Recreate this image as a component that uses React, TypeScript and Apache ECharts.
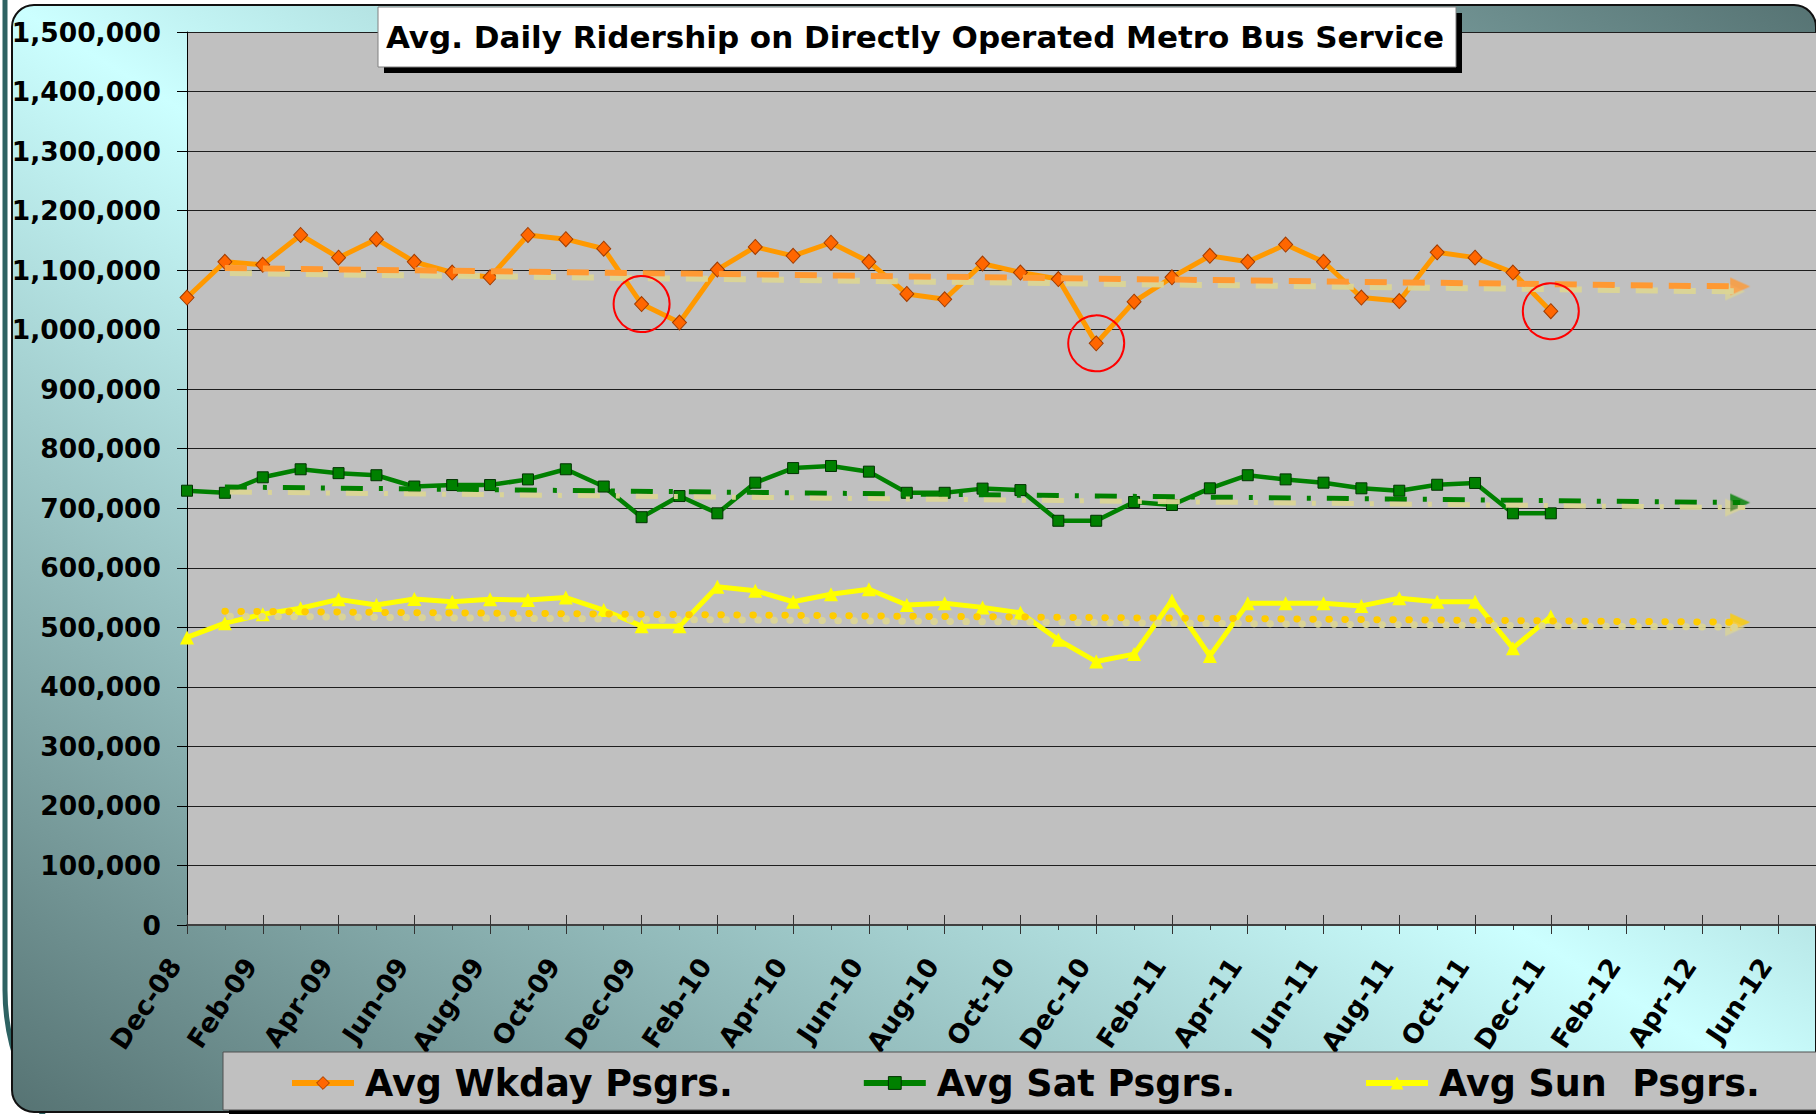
import React, { useEffect, useRef } from "react";
import * as echarts from "echarts";

const TITLE = "Avg. Daily Ridership on Directly Operated Metro Bus Service";

const categories = [
  "Dec-08",
  "Jan-09", "Feb-09", "Mar-09", "Apr-09", "May-09", "Jun-09", "Jul-09", "Aug-09", "Sep-09", "Oct-09", "Nov-09", "Dec-09",
  "Jan-10", "Feb-10", "Mar-10", "Apr-10", "May-10", "Jun-10", "Jul-10", "Aug-10", "Sep-10", "Oct-10", "Nov-10", "Dec-10",
  "Jan-11", "Feb-11", "Mar-11", "Apr-11", "May-11", "Jun-11", "Jul-11", "Aug-11", "Sep-11", "Oct-11", "Nov-11", "Dec-11",
  "Jan-12", "Feb-12", "Mar-12", "Apr-12", "May-12", "Jun-12", "Jul-12",
];

const seriesNames = ["Avg Wkday Psgrs.", "Avg Sat Psgrs.", "Avg Sun  Psgrs."];

const wkday = [
  1054000, 1114000, 1109000, 1159000, 1121000, 1152000, 1114000, 1096000, 1088000, 1159000, 1152000, 1136000, 1043000,
  1012000, 1101000, 1139000, 1124000, 1146000, 1114000, 1060000, 1051000, 1111000, 1096000, 1085000, 977000,
  1047000, 1088000, 1124000, 1114000, 1143000, 1114000, 1054000, 1048000, 1130000, 1121000, 1096000, 1031000,
];

const sat = [
  729500, 726000, 752000, 765500, 759000, 755500, 736500, 739000, 739000, 748500, 765500, 736500, 685000,
  720500, 691500, 743000, 767500, 771000, 761500, 726000, 726000, 733000, 730500, 679000, 679000,
  710500, 705500, 733500, 755500, 748500, 743000, 733500, 729500, 739500, 742500, 691500, 691500,
];

const sun = [
  483000, 507000, 522000, 532000, 547000, 537500, 547500, 543000, 547000, 546000, 550000, 529000, 502000,
  502000, 568000, 561500, 543000, 555500, 564000, 537500, 540500, 533500, 524500, 479000, 442500,
  455000, 545000, 452000, 540500, 540500, 540500, 536000, 549000, 543000, 543000, 465000, 518000,
];

// trend arrows: [categoryIndex, value] start and end
const wkdayTrend = [[1, 1103500], [41, 1072500]];
const satTrend = [[1, 735800], [41, 709500]];
const sunTrend = [[1, 527000], [41, 508500]];

// circled weekday points (category indices)
const circledIdx = [12, 24, 36];

const FONT = "DejaVu Sans";

export default function App() {
  const ref = useRef<HTMLDivElement>(null);

  useEffect(() => {
    document.body.style.margin = "0";
    const chart = echarts.init(ref.current!, undefined, { renderer: "svg" });

    const shadow = {
      shadowColor: "rgba(220,214,148,0.95)",
      shadowBlur: 0,
      shadowOffsetX: 5,
      shadowOffsetY: 5,
    };

    const trendLine = (pts: number[][], color: string, dash: number[], width: number, cap: string) => ({
      silent: true,
      symbol: ["none", "none"],
      label: { show: false },
      emphasis: { disabled: true },
      lineStyle: { color, type: dash, width, cap, ...shadow },
      data: [[{ coord: pts[0] }, { coord: pts[1] }]],
    });

    const arrowHead = (pts: number[][], color: string) => ({
      type: "scatter",
      silent: true,
      data: [pts[1]],
      symbol: "triangle",
      symbolRotate: -90,
      symbolSize: [18, 20],
      itemStyle: { color, ...shadow },
      z: 4,
    });

    const baseX = {
      type: "category",
      data: categories,
      boundaryGap: false,
      position: "bottom",
      splitLine: { show: false },
    };

    const bg = new echarts.graphic.LinearGradient(0, 1, 1, 0, [
      { offset: 0, color: "#567373" },
      { offset: 0.5, color: "#ccffff" },
      { offset: 1, color: "#567373" },
    ]);

    const option: any = {
      animation: false,
      graphic: [
        {
          type: "rect",
          z: -30,
          shape: { x: 5, y: -300, width: 3000, height: 1513, r: 223 },
          style: { fill: "none", stroke: "#2e6262", lineWidth: 5 },
        },
        {
          type: "rect",
          z: -20,
          shape: { x: 12, y: 5, width: 1804, height: 1107, r: 22 },
          style: { fill: bg, stroke: "#111", lineWidth: 2 },
        },
        {
          type: "rect",
          z: 100,
          shape: { x: 384, y: 13, width: 1078, height: 60 },
          style: { fill: "#000" },
        },
        {
          type: "rect",
          z: 101,
          shape: { x: 378, y: 7, width: 1078, height: 60 },
          style: { fill: "#fff", stroke: "#808080", lineWidth: 1 },
        },
        {
          type: "text",
          z: 102,
          x: 915,
          y: 37,
          style: {
            text: TITLE,
            fontFamily: FONT,
            fontWeight: "bold",
            fontSize: 31,
            fill: "#000",
            align: "center",
            verticalAlign: "middle",
          },
        },
        {
          type: "rect",
          z: 90,
          shape: { x: 229, y: 1058, width: 1700, height: 58 },
          style: { fill: "#000" },
        },
        {
          type: "rect",
          z: 91,
          shape: { x: 223, y: 1052, width: 1700, height: 58 },
          style: { fill: "#c0c0c0", stroke: "#505050", lineWidth: 1 },
        },
      ],
      grid: {
        left: 187,
        right: 0,
        top: 32,
        bottom: 189,
        show: true,
        backgroundColor: "#c0c0c0",
        borderWidth: 0,
      },
      legend: {
        data: seriesNames,
        left: 289,
        top: 1063,
        padding: 0,
        orient: "horizontal",
        itemWidth: 62,
        itemHeight: 16,
        itemGap: 128,
        selectedMode: false,
        z: 95,
        lineStyle: { width: 6 },
        itemStyle: { borderWidth: 1 },
        textStyle: {
          fontFamily: FONT,
          fontWeight: "bold",
          fontSize: 36.5,
          lineHeight: 40,
          color: "#000",
          padding: [0, 0, 0, 6],
        },
      },
      xAxis: [
        {
          ...baseX,
          axisLine: { show: true, lineStyle: { color: "#404040", width: 2 } },
          axisTick: { show: true, interval: 0, length: 5, lineStyle: { color: "#333", width: 1 } },
          axisLabel: {
            interval: (idx: number) => idx % 2 === 0 && idx < categories.length - 1,
            rotate: 56,
            margin: 44,
            verticalAlign: "bottom",
            lineHeight: 30,
            fontFamily: FONT,
            fontWeight: "bold",
            fontSize: 26.5,
            color: "#000",
          },
        },
        {
          ...baseX,
          axisLine: { show: false },
          axisTick: { show: true, interval: 1, length: 9, lineStyle: { color: "#333", width: 1 } },
          axisLabel: { show: false },
        },
        {
          ...baseX,
          axisLine: { show: false },
          axisTick: { show: true, inside: true, interval: 1, length: 10, lineStyle: { color: "#333", width: 1 } },
          axisLabel: { show: false },
        },
      ],
      yAxis: {
        type: "value",
        min: 0,
        max: 1500000,
        interval: 100000,
        axisLine: { show: true, lineStyle: { color: "#000", width: 1 } },
        axisTick: { show: true, length: 10, lineStyle: { color: "#000" } },
        axisLabel: {
          margin: 26,
          fontFamily: FONT,
          fontWeight: "bold",
          fontSize: 26.5,
          color: "#000",
          formatter: (v: number) => v.toLocaleString("en-US"),
        },
        splitLine: { show: true, lineStyle: { color: "#1e1e1e", width: 1 } },
      },
      series: [
        {
          name: seriesNames[0],
          type: "line",
          data: wkday,
          symbol: "diamond",
          symbolSize: [14, 15],
          z: 3,
          lineStyle: { color: "#ff9900", width: 5 },
          itemStyle: { color: "#ff6600", borderColor: "#a03c00", borderWidth: 1 },
          markLine: trendLine(wkdayTrend, "#ff9933", [22, 16], 6, "butt"),
          markPoint: {
            silent: true,
            symbol: "circle",
            symbolSize: 56,
            label: { show: false },
            itemStyle: { color: "rgba(0,0,0,0)", borderColor: "#ff0000", borderWidth: 2 },
            data: circledIdx.map((i) => ({ coord: [i, wkday[i]] })),
          },
        },
        {
          name: seriesNames[1],
          type: "line",
          data: sat,
          symbol: "rect",
          symbolSize: 11,
          z: 3,
          lineStyle: { color: "#008000", width: 4.5 },
          itemStyle: { color: "#008000", borderColor: "#003300", borderWidth: 1 },
          markLine: trendLine(satTrend, "#008000", [22, 16, 4, 16], 5, "butt"),
        },
        {
          name: seriesNames[2],
          type: "line",
          data: sun,
          symbol: "triangle",
          symbolSize: 14,
          z: 3,
          lineStyle: { color: "#ffff00", width: 5 },
          itemStyle: { color: "#ffff00" },
          markLine: trendLine(sunTrend, "#ffcc00", [0.5, 15.5], 7, "round"),
        },
        arrowHead(wkdayTrend, "#ff9933"),
        arrowHead(satTrend, "#008000"),
        arrowHead(sunTrend, "#ffcc00"),
      ],
    };

    chart.setOption(option);
    return () => chart.dispose();
  }, []);

  return (
    <div
      ref={ref}
      style={{ position: "absolute", left: 0, top: 0, width: 1816, height: 1114 }}
    />
  );
}
